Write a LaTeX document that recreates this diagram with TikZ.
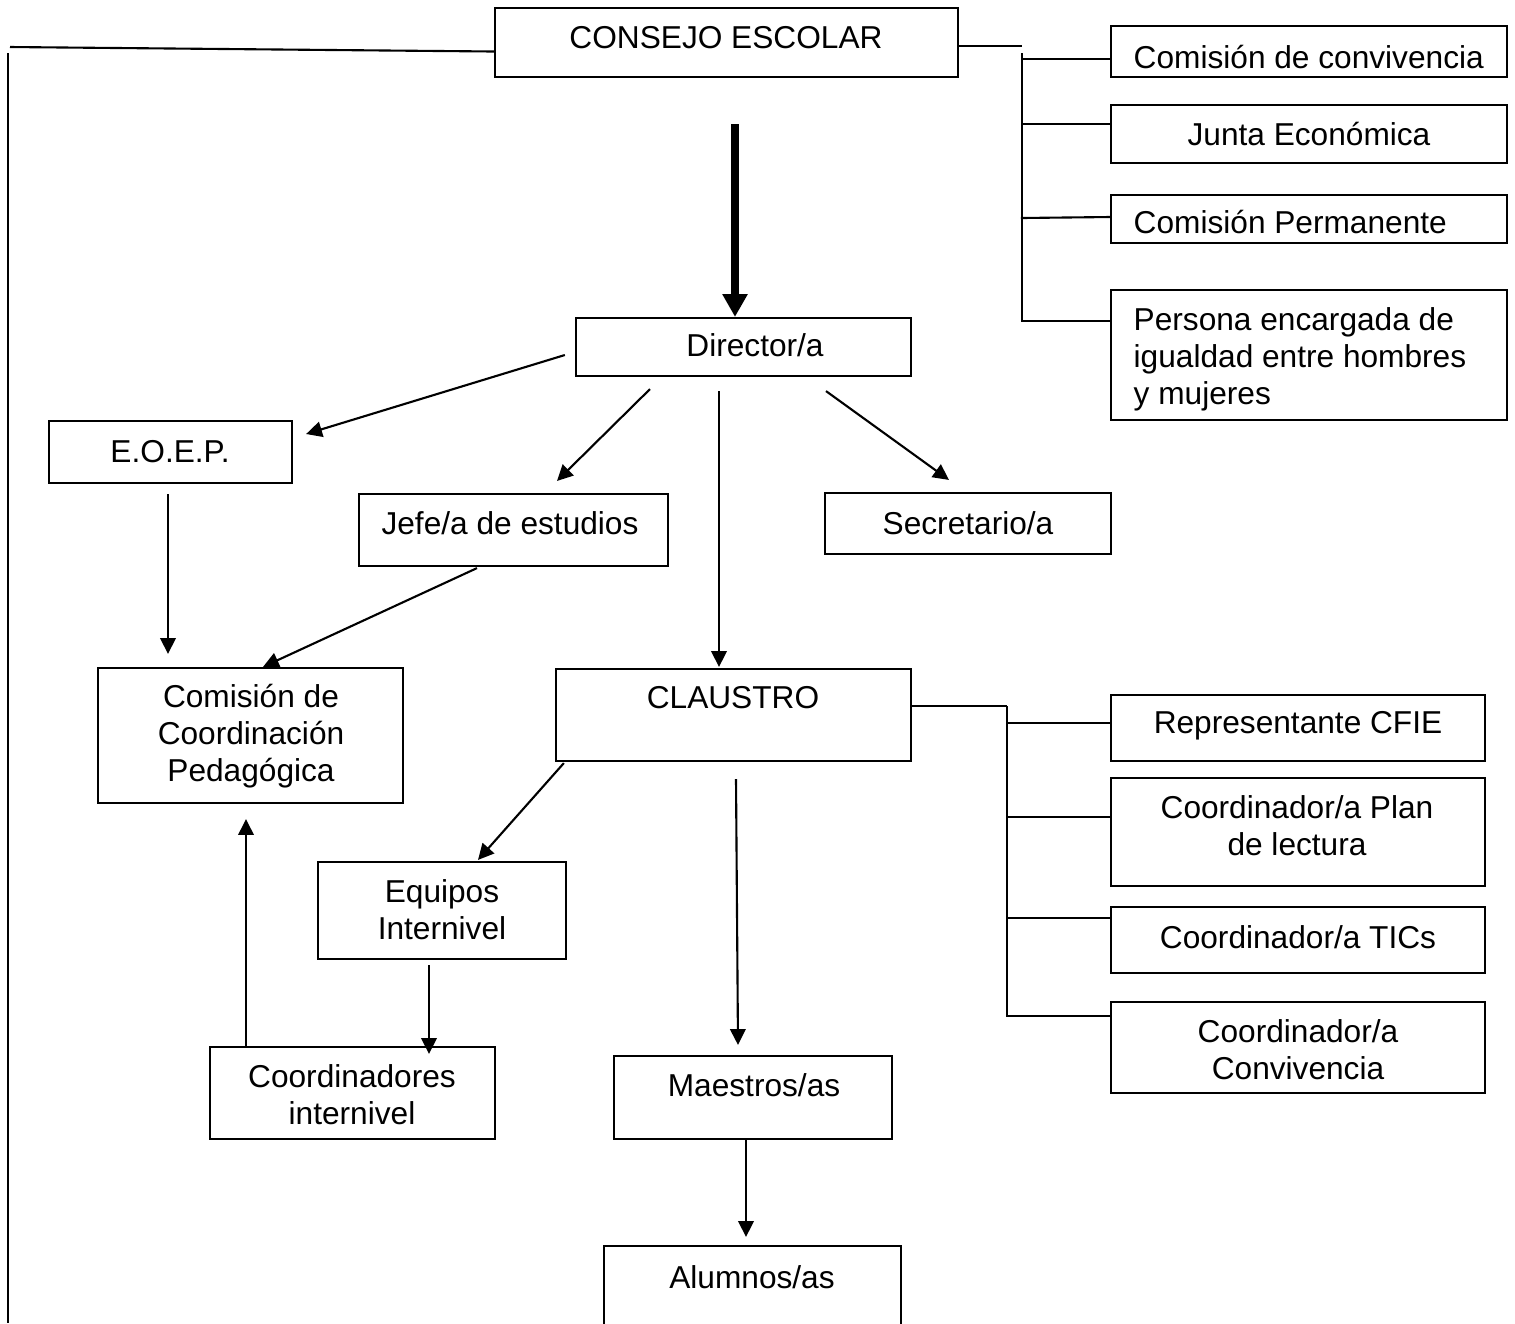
\documentclass[tikz,border=0pt]{standalone}
\usepackage{fontspec}
\setmainfont{Liberation Sans}
\usetikzlibrary{arrows.meta,calc}

\begin{document}
\begin{tikzpicture}[
    x=0.01cm, y=-0.01cm,
    box_style/.style={
        draw=black,
        line width=0.6pt,
        inner sep=0pt
        },
    text_style/.style={
        inner sep=0pt,
        align=center,
        font=\fontsize{9}{10.5}\selectfont
        },
    line_style/.style={draw=black, line width=0.6pt},
    arrow_style/.style={
        line_style,
        -{Triangle[length=4.5pt,width=4.4pt]}
        },
    big_arrow_style/.style={
        draw=black,
        line width=2.3pt,
        -{Triangle[length=6.5pt,width=6.8pt]}
        }]
    \useasboundingbox (0,0) rectangle (1515,1323);

    % boxes
    \node[box_style, minimum width=4.63cm, minimum height=0.69cm] (consejo) at (726.5,42.5) {};
    \node[box_style, minimum width=3.96cm, minimum height=0.51cm] (conviv) at (1309,51.5) {};
    \node[box_style, minimum width=3.96cm, minimum height=0.58cm] (junta) at (1309,134) {};
    \node[box_style, minimum width=3.96cm, minimum height=0.48cm] (perman) at (1309,219) {};
    \node[box_style, minimum width=3.96cm, minimum height=1.30cm] (igualdad) at (1309,355) {};
    \node[box_style, minimum width=3.35cm, minimum height=0.58cm] (director) at (743.5,347) {};
    \node[box_style, minimum width=2.43cm, minimum height=0.62cm] (eoep) at (170.5,452) {};
    \node[box_style, minimum width=3.09cm, minimum height=0.72cm] (jefe) at (513.5,530) {};
    \node[box_style, minimum width=2.86cm, minimum height=0.61cm] (secret) at (968,523.5) {};
    \node[box_style, minimum width=3.05cm, minimum height=1.35cm] (ccp) at (250.5,735.5) {};
    \node[box_style, minimum width=3.55cm, minimum height=0.92cm] (claustro) at (733.5,715) {};
    \node[box_style, minimum width=2.48cm, minimum height=0.97cm] (equipos) at (442,910.5) {};
    \node[box_style, minimum width=2.85cm, minimum height=0.92cm] (coordint) at (352.5,1093) {};
    \node[box_style, minimum width=2.78cm, minimum height=0.83cm] (maestros) at (753,1097.5) {};
    \node[box_style, minimum width=2.97cm, minimum height=0.94cm] (alumnos) at (752.5,1293) {};
    \node[box_style, minimum width=3.74cm, minimum height=0.66cm] (cfie) at (1298,728) {};
    \node[box_style, minimum width=3.74cm, minimum height=1.08cm] (plan) at (1298,832) {};
    \node[box_style, minimum width=3.74cm, minimum height=0.66cm] (tics) at (1298,940) {};
    \node[box_style, minimum width=3.74cm, minimum height=0.91cm] (convc) at (1298,1047.5) {};

    % texts
    \node[text_style] (consejo_t) at (726,38) {CONSEJO ESCOLAR};
    \node[text_style, anchor=west] (conviv_t) at (1133,57) {Comisión de convivencia};
    \node[text_style] (junta_t) at (1309,134) {Junta Económica};
    \node[text_style, anchor=west] (perman_t) at (1133,222) {Comisión Permanente};
    \node[text_style, anchor=west, align=left] (igualdad_t) at (1133,359) {Persona encargada de\\igualdad entre hombres\\y mujeres};
    \node[text_style] (director_t) at (755,345) {Director/a};
    \node[text_style] (eoep_t) at (170,452) {E.O.E.P.};
    \node[text_style] (jefe_t) at (510,523) {Jefe/a de estudios};
    \node[text_style] (secret_t) at (968,523) {Secretario/a};
    \node[text_style] (ccp_t) at (251,736) {Comisión de\\Coordinación\\Pedagógica};
    \node[text_style] (claustro_t) at (733,698) {CLAUSTRO};
    \node[text_style] (equipos_t) at (442,910) {Equipos\\Internivel};
    \node[text_style] (coordint_t) at (352,1095) {Coordinadores\\internivel};
    \node[text_style] (maestros_t) at (754,1085) {Maestros/as};
    \node[text_style] (alumnos_t) at (752,1277) {Alumnos/as};
    \node[text_style] (cfie_t) at (1298,726) {Representante CFIE};
    \node[text_style] (plan_t) at (1297,826) {Coordinador/a Plan\\de lectura};
    \node[text_style] (tics_t) at (1298,937) {Coordinador/a TICs};
    \node[text_style] (convc_t) at (1298,1050) {Coordinador/a\\Convivencia};

    % left line
    \coordinate (left_top) at (10,47);
    \coordinate (left_a) at (8,53);
    \coordinate (left_b) at (8,1323);
    \draw[line_style] ($(consejo.west)+(0,9)$) -- (left_top);
    \draw[line_style] (left_a) -- (left_b);

    % commissions of the council
    \coordinate (bus_a) at (1022,46);
    \coordinate (bus_b) at (1022,53);
    \coordinate (bus_c) at (1022,321);
    \draw[line_style] ($(consejo.east)+(0,3.5)$) -- (bus_a);
    \draw[line_style] (bus_b) -- (bus_c);
    \draw[line_style] ($(conviv.west)+(0,7.5)$) -- ++(-89,0);
    \draw[line_style] ($(junta.west)+(0,-10)$) -- ++(-89,0);
    \draw[line_style] ($(perman.west)+(0,-2)$) -- ++(-89,1);
    \draw[line_style] ($(igualdad.west)+(0,-34)$) -- ++(-89,0);

    % claustro side boxes
    \coordinate (bus_d) at (1007,706);
    \coordinate (bus_e) at (1007,1016);
    \draw[line_style] ($(claustro.east)+(0,-9)$) -- (bus_d);
    \draw[line_style] (bus_d) -- (bus_e);
    \draw[line_style] ($(cfie.west)+(0,-5)$) -- ++(-104,0);
    \draw[line_style] ($(plan.west)+(0,-15)$) -- ++(-104,0);
    \draw[line_style] ($(tics.west)+(0,-22)$) -- ++(-104,0);
    \draw[line_style] ($(convc.west)+(0,-31.5)$) -- ++(-104,0);

    % arrows
    \draw[big_arrow_style] ($(consejo.south)+(8.5,46)$) -- ($(director.north)+(-8.5,0)$);
    \draw[arrow_style] ($(director.west)+(-10,8)$) -- ($(eoep.east)+(13,-18)$);
    \draw[arrow_style] ($(director.south)+(-93.5,12)$) -- ($(jefe.north)+(43.5,-12)$);
    \draw[arrow_style] ($(director.south)+(-24.5,14)$) -- ($(claustro.north)+(-14.5,-1)$);
    \draw[arrow_style] ($(director.south)+(82.5,14)$) -- ($(secret.north)+(-19,-12)$);
    \draw[arrow_style] ($(eoep.south)+(-2.5,10)$) -- ($(ccp.north)+(-82.5,-13)$);
    \draw[arrow_style] ($(jefe.south)+(-36.5,1)$) -- ($(ccp.north)+(12.5,0)$);
    \draw[arrow_style] ($(claustro.south west)+(9,1)$) -- ($(equipos.north)+(36,-1)$);
    \draw[arrow_style] ($(claustro.south)+(2.5,17)$) -- ($(maestros.north)+(-15,-10)$);
    \draw[arrow_style] ($(equipos.south)+(-13,5)$) -- ($(coordint.north)+(76.5,8)$);
    \draw[arrow_style] ($(coordint.north)+(-106.5,0)$) -- ($(ccp.south)+(-4.5,15)$);
    \draw[arrow_style] ($(maestros.south)+(-7,0)$) -- ($(alumnos.north)+(-6.5,-8)$);
\end{tikzpicture}
\end{document}
